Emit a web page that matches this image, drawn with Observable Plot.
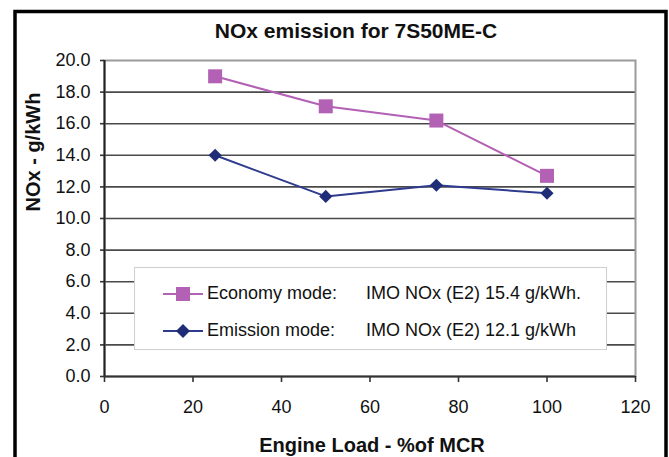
<!DOCTYPE html>
<html>
<head>
<meta charset="utf-8">
<script src="https://cdn.jsdelivr.net/npm/d3@7"></script>
<script src="https://cdn.jsdelivr.net/npm/@observablehq/plot@0.6"></script>
<style>
  body { margin: 0; background: #fff; }
  #wrap { position: relative; width: 669px; height: 457px; overflow: hidden; font-family: "Liberation Sans", Arial, sans-serif; }
  #legend { position: absolute; left: 134px; top: 267px; width: 471px; height: 81px; background: #fff; border: 1.5px solid #cfcfcf; }
  .row { position: absolute; left: 0; height: 24px; font-size: 18px; color: #111; }
  .row svg { position: absolute; left: 28px; top: 0; }
  .row .a { position: absolute; left: 72px; top: 1px; white-space: nowrap; }
  .row .b { position: absolute; left: 231px; top: 1px; white-space: nowrap; }
</style>
</head>
<body>
<div id="wrap"></div>
<script>
const title = "NOx emission for 7S50ME-C";
const xLabel = "Engine Load - %of MCR";
const yLabel = "NOx - g/kWh";
const loads = [25, 50, 75, 100];
const economy = [19.0, 17.1, 16.2, 12.7];
const emission = [14.0, 11.4, 12.1, 11.6];
const xTicks = [0, 20, 40, 60, 80, 100, 120];
const yTicks = [0, 2, 4, 6, 8, 10, 12, 14, 16, 18, 20];
const seriesNames = ["Economy mode:", "Emission mode:"];
const seriesNotes = ["IMO NOx (E2) 15.4 g/kWh.", "IMO NOx (E2) 12.1 g/kWh"];
const pink = "#b261b5";
const navy = "#1f2d78";

const ecoRows = loads.map((x, i) => ({x, y: economy[i]}));
const emiRows = loads.map((x, i) => ({x, y: emission[i]}));

const chart = Plot.plot({
  width: 669,
  height: 457,
  marginLeft: 104,
  marginRight: 34,
  marginTop: 60,
  marginBottom: 81,
  style: {fontFamily: "'Liberation Sans', Arial, sans-serif", fontSize: "18px", color: "#111", background: "transparent"},
  x: {domain: [0, 120]},
  y: {domain: [0, 20]},
  marks: [
    Plot.ruleY(yTicks.filter(d => d > 0 && d < 20), {stroke: "#4a4a4a", strokeWidth: 1.6}),
    Plot.frame({stroke: "#9a9a9a", strokeWidth: 2}),
    Plot.axisY({ticks: yTicks, tickFormat: d3.format(".1f"), tickSize: 4, tickPadding: 10, stroke: "#333", strokeWidth: 1.6, label: null, fontSize: 18}),
    Plot.axisX({ticks: xTicks, tickSize: 6, tickPadding: 18, stroke: "#333", strokeWidth: 1.6, label: null, fontSize: 18}),
    Plot.ruleX([0], {stroke: "#222", strokeWidth: 2}),
    Plot.ruleY([0], {stroke: "#333", strokeWidth: 2}),
    Plot.line(ecoRows, {x: "x", y: "y", stroke: pink, strokeWidth: 2}),
    Plot.dot(ecoRows, {x: "x", y: "y", symbol: "square", r: 7.9, fill: pink}),
    Plot.line(emiRows, {x: "x", y: "y", stroke: "#2e3b8e", strokeWidth: 2}),
    Plot.dot(emiRows, {x: "x", y: "y", symbol: "diamond2", r: 5.9, fill: navy}),
    Plot.text([title], {frameAnchor: "top", text: d => d, dx: -14, dy: -23, lineAnchor: "bottom", fontSize: 21, fontWeight: "bold", fill: "#111"}),
    Plot.text([xLabel], {frameAnchor: "bottom", text: d => d, dx: 2, dy: 69, lineAnchor: "middle", fontSize: 20, fontWeight: "bold", fill: "#111"}),
    Plot.text([yLabel], {frameAnchor: "left", text: d => d, dx: -71, dy: -7, rotate: -90, lineAnchor: "middle", fontSize: 20, fontWeight: "bold", fill: "#111"})
  ]
});

d3.select(chart).append("rect")
  .attr("x", 15).attr("y", 11.5).attr("width", 651).attr("height", 520)
  .attr("fill", "none").attr("stroke", "#000").attr("stroke-width", 3.5);

const wrap = document.getElementById("wrap");
wrap.appendChild(chart);

const legend = document.createElement("div");
legend.id = "legend";
const symbols = [
  `<rect x="13" y="5" width="14" height="14" fill="${pink}"/>`,
  `<path d="M20 5 L27 12 L20 19 L13 12 Z" fill="${navy}"/>`
];
const lineColors = [pink, "#2e3b8e"];
seriesNames.forEach((name, i) => {
  const row = document.createElement("div");
  row.className = "row";
  row.style.top = (14 + i * 37) + "px";
  row.style.width = "100%";
  row.innerHTML = `<svg width="42" height="24"><line x1="0" y1="12" x2="40" y2="12" stroke="${lineColors[i]}" stroke-width="2"/>${symbols[i]}</svg>` +
    `<span class="a">${name}</span><span class="b">${seriesNotes[i]}</span>`;
  legend.appendChild(row);
});
wrap.appendChild(legend);
</script>
</body>
</html>
